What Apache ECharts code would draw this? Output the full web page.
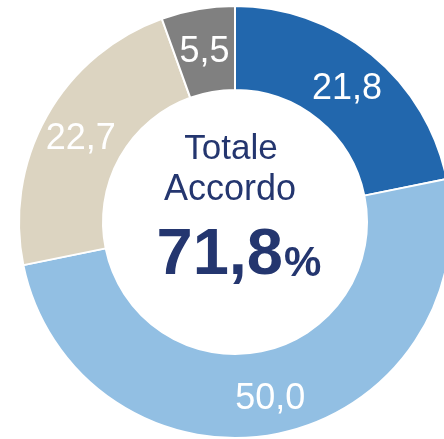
<!DOCTYPE html>
<html>
<head>
<meta charset="utf-8">
<script src="https://cdn.jsdelivr.net/npm/echarts@6/dist/echarts.min.js"></script>
<style>
  html, body { margin: 0; padding: 0; background: #fff; }
  #chart { width: 444px; height: 439px; }
</style>
</head>
<body>
<div id="chart"></div>
<script>
  // dati del grafico
  var categories = ['Molto d\'accordo', 'Abbastanza d\'accordo', 'Poco d\'accordo', 'Per niente d\'accordo'];
  var values = [21.8, 50.0, 22.7, 5.5];
  var colors = ['#2267ad', '#92bfe3', '#dcd4c1', '#808080'];
  var centerTitle = ['Totale', 'Accordo'];

  function fmt(v) {
    return v.toFixed(1).replace('.', ',');
  }

  // totale accordo = prime due voci
  var totale = values[0] + values[1];

  var chartDom = document.getElementById('chart');
  var myChart = echarts.init(chartDom);

  var data = categories.map(function (c, i) {
    return { name: c, value: values[i], itemStyle: { color: colors[i] } };
  });

  var navy = '#24366f';

  var option = {
    animation: false,
    series: [
      {
        type: 'pie',
        center: [235, 222],
        radius: [132, 216],
        startAngle: 90,
        clockwise: true,
        avoidLabelOverlap: false,
        itemStyle: {
          borderColor: '#ffffff',
          borderWidth: 2
        },
        label: {
          show: true,
          position: 'inside',
          color: '#ffffff',
          fontFamily: 'Liberation Sans, Arial, sans-serif',
          fontSize: 36,
          offset: [0, 4],
          formatter: function (p) { return fmt(p.value); }
        },
        labelLine: { show: false },
        emphasis: { disabled: true },
        data: data
      }
    ],
    graphic: [
      {
        type: 'text',
        style: {
          text: centerTitle[0],
          x: 231, y: 149,
          textAlign: 'center', textVerticalAlign: 'middle',
          font: '35px "Liberation Sans", Arial, sans-serif',
          fill: navy
        }
      },
      {
        type: 'text',
        style: {
          text: centerTitle[1],
          x: 230, y: 190,
          textAlign: 'center', textVerticalAlign: 'middle',
          font: '36px "Liberation Sans", Arial, sans-serif',
          fill: navy
        }
      },
      {
        type: 'text',
        style: {
          text: fmt(totale),
          x: 283, y: 256,
          textAlign: 'right', textVerticalAlign: 'middle',
          font: 'bold 65px "Liberation Sans", Arial, sans-serif',
          fill: navy
        }
      },
      {
        type: 'text',
        style: {
          text: '%',
          x: 284, y: 264,
          textAlign: 'left', textVerticalAlign: 'middle',
          font: 'bold 42px "Liberation Sans", Arial, sans-serif',
          fill: navy
        }
      }
    ]
  };

  option && myChart.setOption(option);
</script>
</body>
</html>
